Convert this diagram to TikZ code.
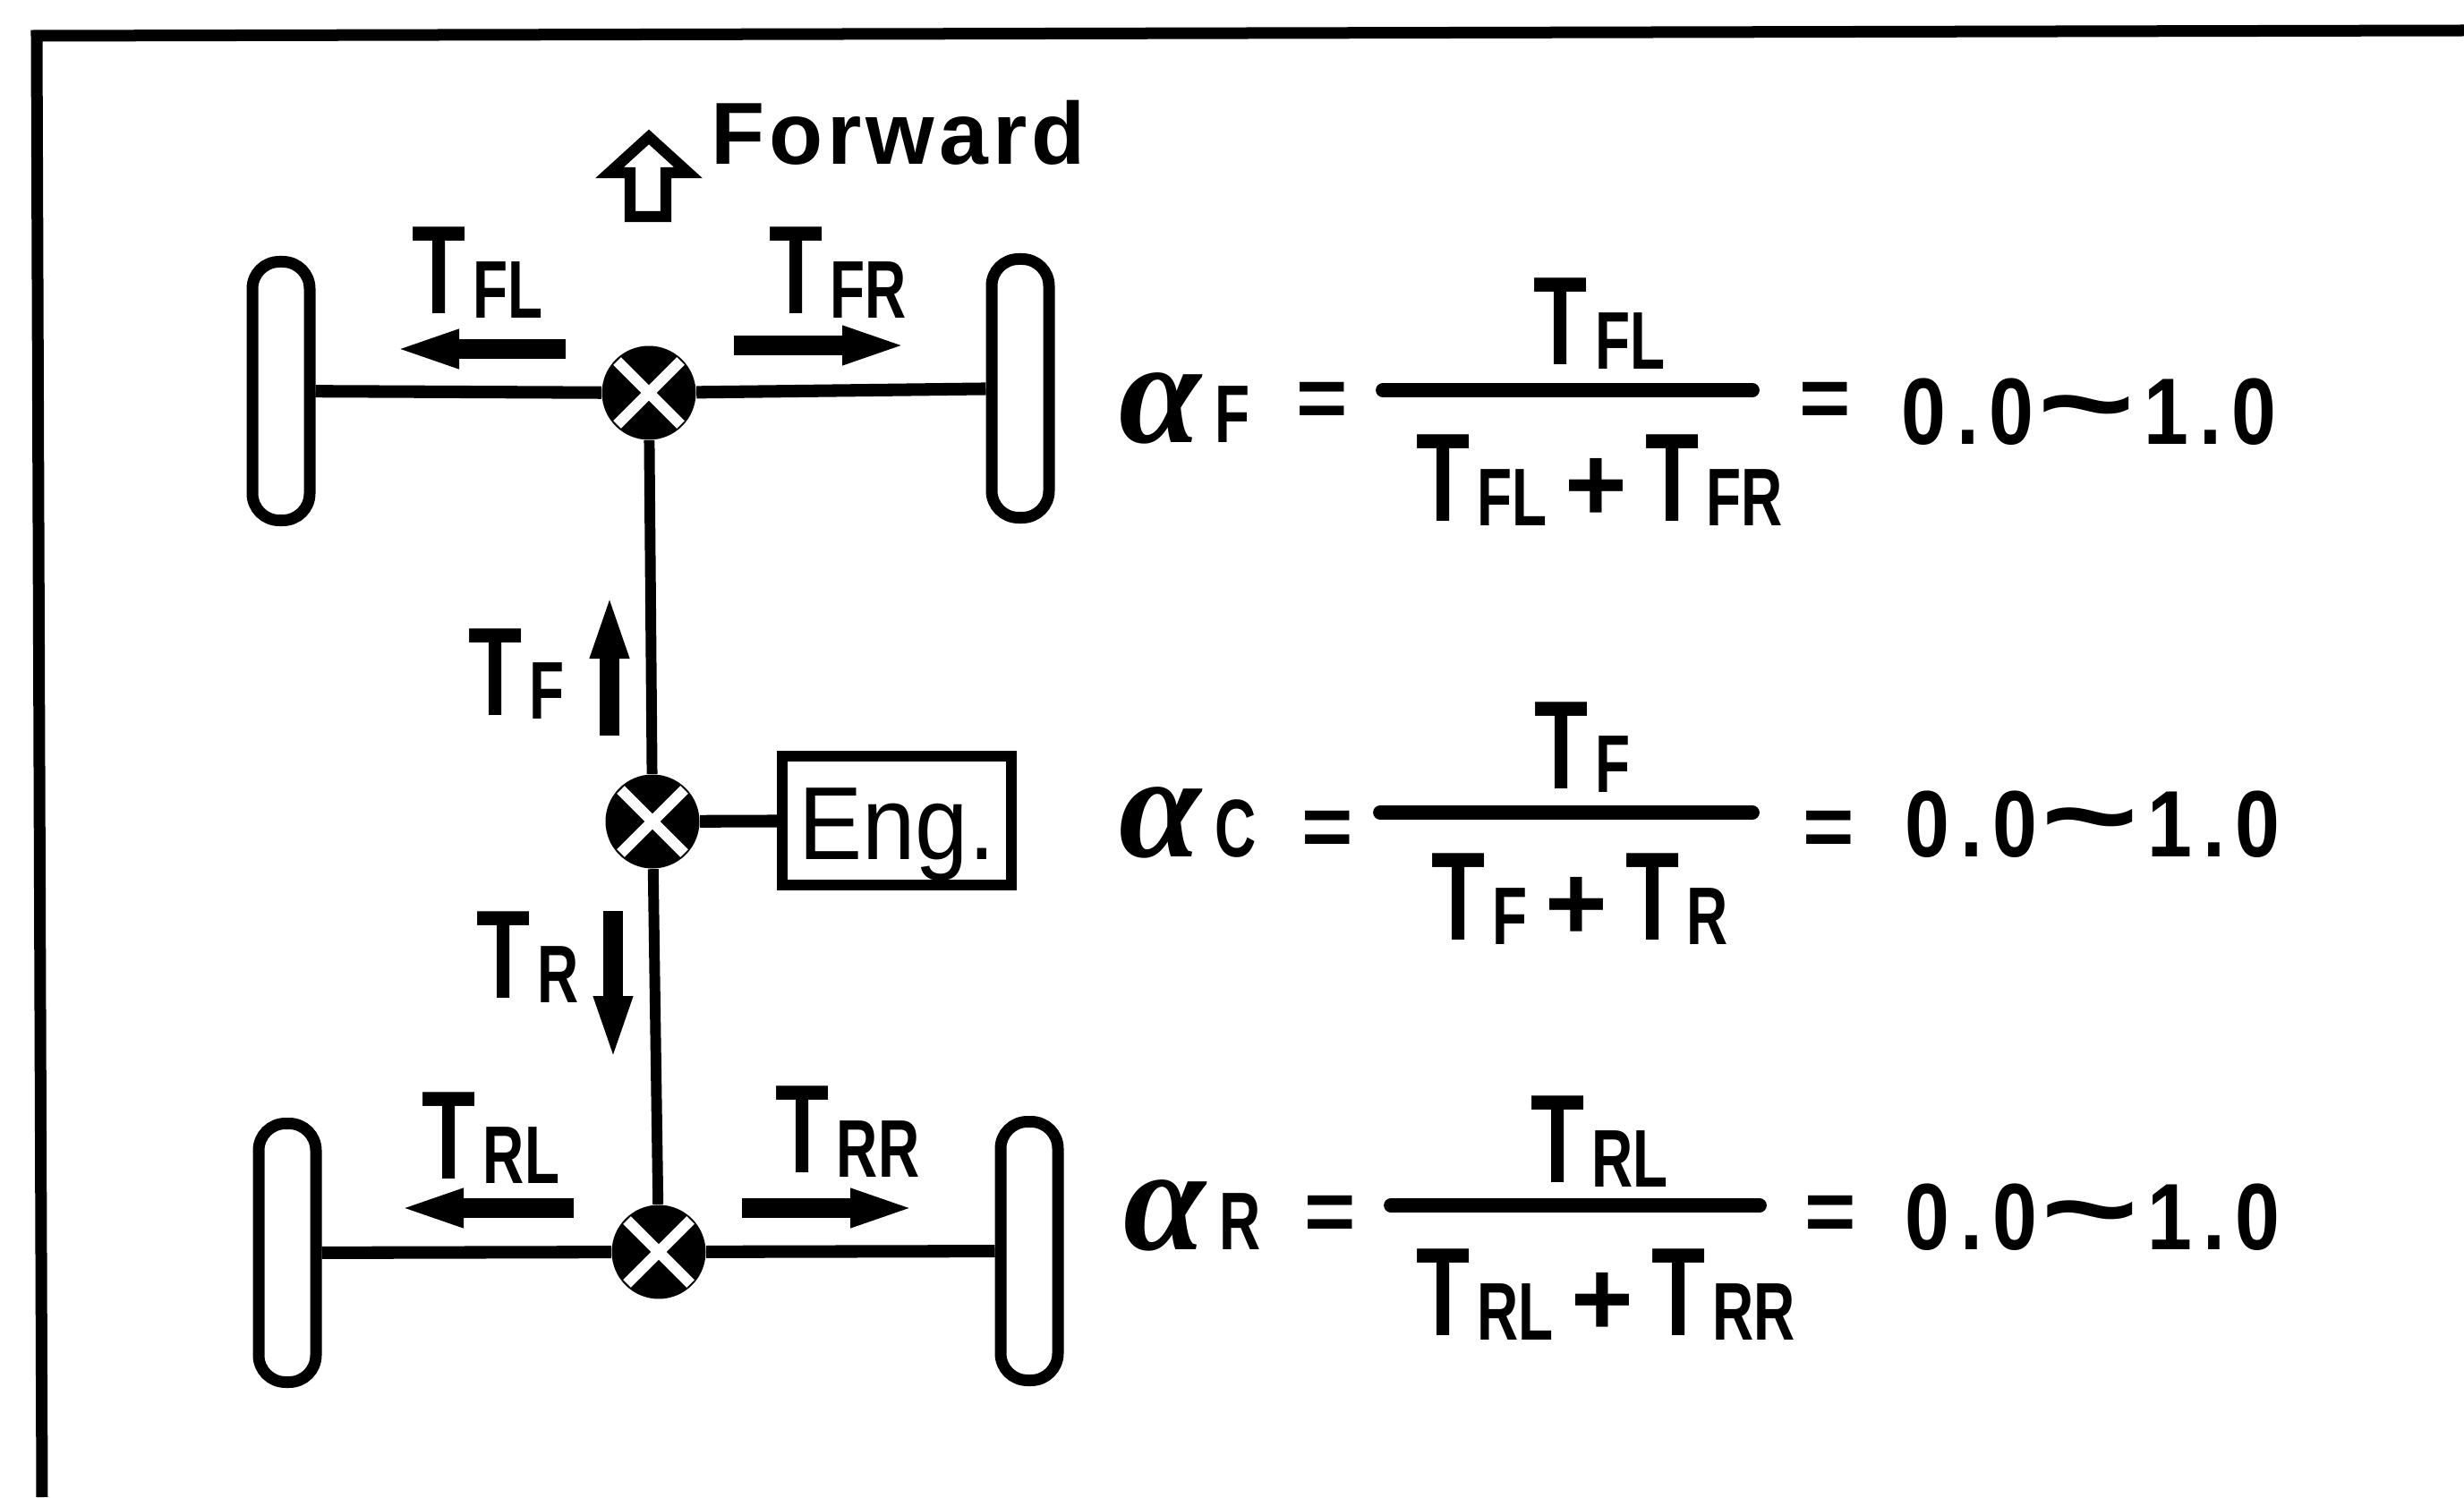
\documentclass[tikz,border=0pt]{standalone}
\usepackage{fontspec}
\usetikzlibrary{arrows.meta}
\newfontfamily\trqfont[FakeStretch=0.7]{Liberation Sans}
\newfontfamily\valfont[FakeStretch=0.85,LetterSpace=11]{Liberation Sans}
\newfontfamily\tldfont[FakeStretch=1.4]{Liberation Sans}
\newfontfamily\fwdfont[LetterSpace=5]{Liberation Sans}
\newfontfamily\engfont[FakeStretch=0.92]{Liberation Sans}
\newfontfamily\grkfont{Liberation Serif}
\setmainfont{Liberation Sans}
\newcommand{\trq}[1]{{\trqfont\bfseries\fontsize{40}{44}\selectfont T\kern 0.08cm\fontsize{26}{30}\selectfont\lower 0.05cm\hbox{#1}}}
\newcommand{\plus}{{\bfseries\fontsize{34}{38}\selectfont\,+\,}}
\newcommand{\alf}[1]{{\grkfont\bfseries\itshape\fontsize{47}{50}\selectfont\char"03B1}{\trqfont\bfseries\fontsize{26}{30}\selectfont\,#1}}
\newcommand{\rng}{0.0\kern 1pt{\tldfont\bfseries\fontsize{38}{42}\selectfont\char"7E}\kern 3pt 1.0}
\tikzset{
  wheel/.style={draw,line width=3.7pt,rounded corners=0.3cm,minimum width=0.64cm,minimum height=2.89cm,inner sep=0pt},
  diff/.style={circle,fill=black,minimum size=1.05cm,inner sep=0pt},
  cross/.style={white,line width=3.5pt,shorten >=0.03cm,shorten <=0.03cm},
  shaft/.style={line width=3.4pt},
  axle/.style={line width=4pt},
  trqarrow/.style={line width=6.5pt,shorten >=-0.15cm,-{Triangle[length=0.75cm,width=0.38cm]}},
  txt/.style={inner sep=0pt,anchor=base west},
  ctxt/.style={inner sep=0pt,anchor=base},
  fracline/.style={line width=4.5pt,line cap=round},
  eqn/.style={txt,font=\bfseries\fontsize{28}{32}\selectfont},
  val/.style={txt,font=\valfont\bfseries\fontsize{30}{34}\selectfont},
}
\begin{document}
\begin{tikzpicture}
      \useasboundingbox (0,0) rectangle (27.53,16.73);

      % frame
      \draw [line width=3.7pt] (0.47,0) -- (0.41,16.33) -- (27.53,16.39);

      \node [wheel] (wfl) at (3.14,12.36) {};
      \node [wheel] (wfr) at (11.40,12.39) {};
      \node [wheel] (wrl) at (3.21,2.73) {};
      \node [wheel] (wrr) at (11.50,2.75) {};

      \node [diff] (dfront) at (7.25,12.34) {};
      \node [diff] (dcentre) at (7.29,7.55) {};
      \node [diff] (drear) at (7.36,2.74) {};
      \foreach \name in {dfront,dcentre,drear} {
        \draw [cross] (\name.45) -- (\name.225);
        \draw [cross] (\name.135) -- (\name.315);
      }

      \node [draw,line width=3.4pt,minimum width=2.56cm,inner sep=0pt,text height=1.15cm,text depth=0.29cm,
             font=\engfont\fontsize{33}{36}\selectfont] (eng) at (10.02,7.56) {Eng.};

      \draw [axle] (wfl) -- (dfront);
      \draw [axle] (dfront) -- (wfr);
      \draw [axle] (wrl) -- (drear);
      \draw [axle] (drear) -- (wrr);
      \draw [shaft] (dfront) -- (dcentre);
      \draw [shaft] (dcentre) -- (drear);
      \draw [axle] (dcentre) -- (eng);

      % torque arrows
      \foreach \name/\ax/\ay/\bx/\by in {
        tfl/6.32/12.83/4.53/12.83,
        tfr/8.20/12.87/10.01/12.87,
        tf/6.81/8.51/6.81/9.97,
        tr/6.85/6.55/6.85/5.00,
        trl/6.41/3.23/4.58/3.23,
        trr/8.29/3.23/10.10/3.23} {
        \coordinate (\name a) at (\ax,\ay);
        \coordinate (\name b) at (\bx,\by);
        \draw [trqarrow] (\name a) -- (\name b);
      }

      % forward mark
      \draw [line width=3.5pt] (7.25,15.20) -- (7.69,14.80) -- (7.44,14.80) -- (7.44,14.31)
        -- (7.04,14.31) -- (7.04,14.80) -- (6.81,14.80) -- cycle;
      \node [txt,font=\fwdfont\bfseries\fontsize{28}{32}\selectfont] (forward) at (7.94,14.89) {Forward};

      \node [txt] (ltfl) at (4.60,13.22) {\trq{FL}};
      \node [txt] (ltfr) at (8.59,13.22) {\trq{FR}};
      \node [txt] (ltf) at (5.23,8.74) {\trq{F}};
      \node [txt] (ltr) at (5.32,5.58) {\trq{R}};
      \node [txt] (ltrl) at (4.71,3.56) {\trq{RL}};
      \node [txt] (ltrr) at (8.66,3.63) {\trq{RR}};

      % front
      \node [txt] (af) at (12.50,11.78) {\alf{F}};
      \node [eqn] (eqfa) at (14.48,11.94) {=};
      \node [ctxt] (nf) at (17.87,12.65) {\trq{FL}};
      \node [ctxt] (df) at (17.87,10.90) {\trq{FL}\plus\trq{FR}};
      \coordinate (fla) at (15.45,12.37);
      \coordinate (flb) at (19.58,12.37);
      \draw [fracline] (fla) -- (flb);
      \node [eqn] (eqfb) at (20.10,11.94) {=};
      \node [val] (vf) at (21.24,11.76) {\rng};

      % centre
      \node [txt] (ac) at (12.50,7.16) {\alf{C}};
      \node [eqn] (eqca) at (14.54,7.16) {=};
      \node [ctxt] (nc) at (17.68,7.92) {\trq{F}};
      \node [ctxt] (dc) at (17.65,6.23) {\trq{F}\plus\trq{R}};
      \coordinate (cla) at (15.42,7.65);
      \coordinate (clb) at (19.58,7.65);
      \draw [fracline] (cla) -- (clb);
      \node [eqn] (eqcb) at (20.14,7.16) {=};
      \node [val] (vc) at (21.28,7.16) {\rng};

      % rear
      \node [txt] (ar) at (12.55,2.77) {\alf{R}};
      \node [eqn] (eqra) at (14.57,2.86) {=};
      \node [ctxt] (nr) at (17.87,3.52) {\trq{RL}};
      \node [ctxt] (dr) at (17.94,1.81) {\trq{RL}\plus\trq{RR}};
      \coordinate (rla) at (15.54,3.26);
      \coordinate (rlb) at (19.66,3.26);
      \draw [fracline] (rla) -- (rlb);
      \node [eqn] (eqrb) at (20.16,2.86) {=};
      \node [val] (vr) at (21.28,2.77) {\rng};
\end{tikzpicture}
\end{document}
